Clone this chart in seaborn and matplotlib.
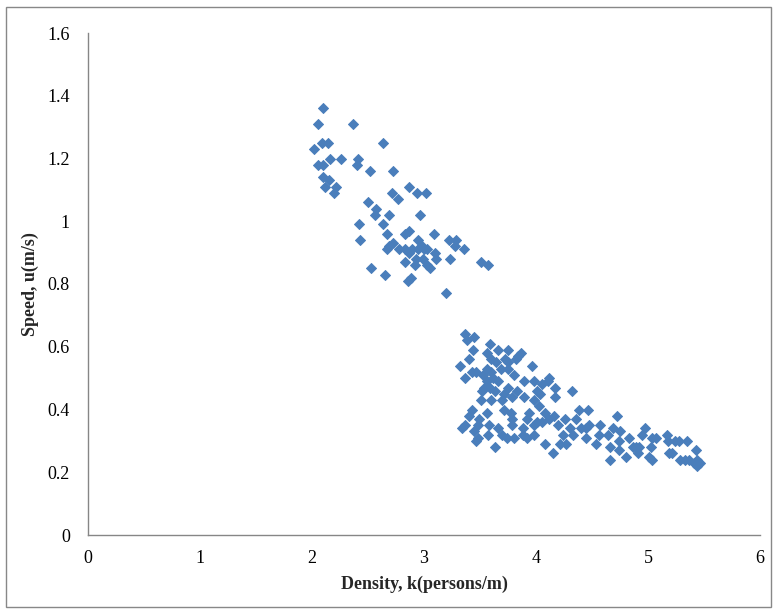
import matplotlib
matplotlib.use("Agg")
import matplotlib.pyplot as plt
import seaborn as sns
import pandas as pd
from matplotlib.patches import Rectangle

# Upper cluster (lower density)
density_high = [2.10, 2.05, 2.37, 2.09, 2.14, 2.63, 2.02, 2.16, 2.26, 2.41,
                2.05, 2.10, 2.40, 2.10, 2.15, 2.12, 2.21, 2.20, 2.52, 2.72,
                2.87, 2.94, 3.02, 2.71, 2.77, 2.50, 2.57, 2.56, 2.69, 2.96,
                2.42, 2.63, 2.67, 2.83, 2.87, 3.09, 2.43, 2.95, 3.22, 3.29,
                3.28, 2.72, 2.69, 2.67, 2.78, 2.83, 2.89, 2.87, 2.95, 2.98,
                3.00, 3.03, 3.10, 3.36, 2.83, 2.93, 2.99, 3.11, 3.23, 2.92,
                3.03, 3.05, 2.53, 2.65, 2.88, 2.86, 3.51, 3.57, 3.20]
speed_high = [1.36, 1.31, 1.31, 1.25, 1.25, 1.25, 1.23, 1.20, 1.20, 1.20,
              1.18, 1.18, 1.18, 1.14, 1.13, 1.11, 1.11, 1.09, 1.16, 1.16,
              1.11, 1.09, 1.09, 1.09, 1.07, 1.06, 1.04, 1.02, 1.02, 1.02,
              0.99, 0.99, 0.96, 0.96, 0.97, 0.96, 0.94, 0.94, 0.94, 0.94,
              0.92, 0.93, 0.92, 0.91, 0.91, 0.91, 0.91, 0.90, 0.91, 0.92,
              0.91, 0.91, 0.90, 0.91, 0.87, 0.88, 0.88, 0.88, 0.88, 0.86,
              0.86, 0.85, 0.85, 0.83, 0.82, 0.81, 0.87, 0.86, 0.77]

# Lower cluster (higher density)
density_low = [3.37, 3.38, 3.45, 3.59, 3.44, 3.56, 3.66, 3.75, 3.87, 3.84,
               3.40, 3.60, 3.72, 3.75, 3.82, 3.32, 3.64, 3.96, 3.43, 3.46,
               3.56, 3.69, 3.75, 3.37, 3.53, 3.60, 3.62, 3.80, 3.56, 3.66,
               3.89, 3.98, 3.54, 3.59, 3.75, 4.05, 3.52, 3.63, 3.71, 3.83,
               4.01, 3.89,
               3.51, 3.60, 3.70, 3.79, 3.98, 4.03, 3.71, 3.43, 3.56, 3.78,
               3.94, 3.40, 3.49, 3.79, 3.92, 4.01, 3.37, 3.48, 3.58, 3.66,
               3.79, 3.88, 3.98, 3.34, 3.45, 3.48, 3.57, 3.70, 3.74, 3.80,
               3.88, 3.92, 3.98, 3.46, 3.63,
               4.12, 4.11, 4.17, 4.32, 4.04, 4.17, 4.08, 4.16, 4.38, 4.46,
               4.72, 4.05, 4.12, 4.26, 4.36, 4.20, 4.30, 4.40, 4.47, 4.45,
               4.57, 4.69, 4.24, 4.33, 4.45, 4.56, 4.64, 4.08, 4.21, 4.27,
               4.54, 4.66, 4.15, 4.66,
               4.75, 4.74, 4.83, 4.89, 4.80, 4.91, 4.95, 4.97, 5.04, 5.07,
               5.03, 5.01, 5.04, 5.17, 5.18, 5.24, 5.28, 5.35, 5.19, 5.21,
               5.29, 5.33, 5.37, 5.43, 5.44, 5.41, 5.44, 5.46, 4.92, 4.87,
               4.74]
speed_low = [0.64, 0.62, 0.63, 0.61, 0.59, 0.58, 0.59, 0.59, 0.58, 0.57,
             0.56, 0.56, 0.56, 0.55, 0.56, 0.54, 0.55, 0.54, 0.52, 0.52,
             0.53, 0.53, 0.53, 0.50, 0.51, 0.52, 0.50, 0.51, 0.49, 0.49,
             0.49, 0.49, 0.47, 0.47, 0.47, 0.48, 0.46, 0.46, 0.45, 0.46,
             0.46, 0.44,
             0.43, 0.43, 0.43, 0.44, 0.43, 0.41, 0.40, 0.40, 0.39, 0.39,
             0.39, 0.38, 0.37, 0.37, 0.37, 0.36, 0.35, 0.35, 0.35, 0.34,
             0.35, 0.34, 0.35, 0.34, 0.33, 0.31, 0.32, 0.32, 0.31, 0.31,
             0.32, 0.31, 0.32, 0.30, 0.28,
             0.50, 0.49, 0.47, 0.46, 0.45, 0.44, 0.39, 0.38, 0.40, 0.40,
             0.38, 0.36, 0.37, 0.37, 0.37, 0.35, 0.34, 0.34, 0.35, 0.34,
             0.35, 0.34, 0.32, 0.32, 0.31, 0.32, 0.32, 0.29, 0.29, 0.29,
             0.29, 0.28, 0.26, 0.24,
             0.33, 0.30, 0.31, 0.28, 0.25, 0.26, 0.32, 0.34, 0.31, 0.31,
             0.28, 0.25, 0.24, 0.32, 0.30, 0.30, 0.30, 0.30, 0.26, 0.26,
             0.24, 0.24, 0.24, 0.27, 0.24, 0.23, 0.22, 0.23, 0.28, 0.28,
             0.27]

x_ticks = [0, 1, 2, 3, 4, 5, 6]
y_ticks = [0, 0.2, 0.4, 0.6, 0.8, 1.0, 1.2, 1.4, 1.6]
y_tick_labels = ["0", "0.2", "0.4", "0.6", "0.8", "1", "1.2", "1.4", "1.6"]

df = pd.DataFrame({
    "density": density_high + density_low,
    "speed": speed_high + speed_low,
})

sns.set_style("white")
plt.rcParams["font.family"] = ["Liberation Serif", "DejaVu Serif"]

fig = plt.figure(figsize=(7.74, 6.10), dpi=100)
ax = fig.add_axes([88 / 774, 1 - 535 / 610, (760 - 88) / 774, (535 - 33) / 610])

sns.scatterplot(data=df, x="density", y="speed", marker="D", s=26,
                color="#4A7EBB", edgecolor="#4A7EBB", linewidth=0.7, ax=ax)

ax.set_xlim(0, 6)
ax.set_ylim(0, 1.6)
ax.set_xticks(x_ticks)
ax.set_xticklabels([str(t) for t in x_ticks])
ax.set_yticks(y_ticks)
ax.set_yticklabels(y_tick_labels)

for side in ["top", "right"]:
    ax.spines[side].set_visible(False)
for side in ["left", "bottom"]:
    ax.spines[side].set_color("#868686")
    ax.spines[side].set_linewidth(1.0)

ax.tick_params(axis="both", which="major", direction="out", length=5,
               width=1.0, color="#868686", labelsize=13, labelcolor="black")
ax.tick_params(axis="x", pad=6)
ax.tick_params(axis="y", pad=8)

ax.set_xlabel("Density, k(persons/m)", fontsize=13, fontweight="bold", labelpad=6)
ax.set_ylabel("Speed, u(m/s)", fontsize=13, fontweight="bold", labelpad=6)

fig.patches.append(Rectangle((6 / 774, 1 - 607 / 610), 765 / 774, 600 / 610,
                             transform=fig.transFigure, fill=False,
                             edgecolor="#888888", linewidth=1.0))

fig.savefig("out.png", dpi=100, facecolor="white")
